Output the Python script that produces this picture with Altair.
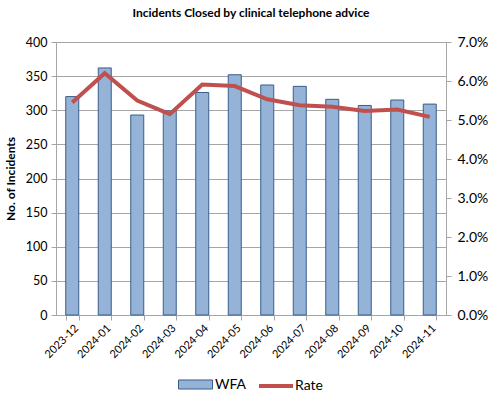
import altair as alt
import pandas as pd

months = ["2023-12", "2024-01", "2024-02", "2024-03", "2024-04", "2024-05",
          "2024-06", "2024-07", "2024-08", "2024-09", "2024-10", "2024-11"]
wfa = [320, 362, 293, 299, 326, 352, 337, 335, 316, 307, 315, 309]
rate_pct = [5.45, 6.20, 5.50, 5.15, 5.91, 5.87, 5.53, 5.38, 5.34, 5.23, 5.27, 5.08]

df = pd.DataFrame({
    "month": months,
    "WFA": wfa,
    "Rate": [r / 100 for r in rate_pct],
    "s1": ["WFA"] * len(months),
    "s2": ["Rate"] * len(months),
})

FONT = "Lato"
GRID = "#A6A6A6"

x = alt.X("month:N", sort=months, title=None,
          scale=alt.Scale(paddingInner=0.6, paddingOuter=0.3),
          axis=alt.Axis(labelAngle=-45, labelFontSize=11, labelFont=FONT, labelColor="#000",
                        tickBand="extent", tickSize=5, tickColor=GRID, domainColor=GRID,
                        grid=False, labelPadding=2))

bars = alt.Chart(df).mark_bar(stroke="#385D8A", strokeWidth=1).encode(
    x=x,
    y=alt.Y("WFA:Q", title="No. of Incidents",
            scale=alt.Scale(domain=[0, 400]),
            axis=alt.Axis(values=list(range(0, 401, 50)), labelFontSize=12.5, labelFont=FONT,
                          labelColor="#000", titleFont=FONT, titleFontSize=12,
                          titleFontWeight="bold", titleColor="#000", titlePadding=8,
                          grid=True, gridColor=GRID, tickColor=GRID, domainColor=GRID,
                          tickSize=5, labelPadding=4)),
    fill=alt.Fill("s1:N", scale=alt.Scale(domain=["WFA"], range=["#95B3D7"]),
                  legend=alt.Legend(title=None, orient="none", legendX=122, legendY=325,
                                    symbolType="M-1,-0.265H1V0.265H-1Z", symbolSize=1156,
                                    symbolStrokeColor="#385D8A", symbolStrokeWidth=1,
                                    symbolFillColor="#95B3D7",
                                    labelFont=FONT, labelFontSize=14, labelColor="#000",
                                    labelOffset=2, padding=0)),
)

line = alt.Chart(df).mark_line(color="#C0504D", strokeWidth=4).encode(
    x=x,
    y=alt.Y("Rate:Q", title=None,
            scale=alt.Scale(domain=[0, 0.07]),
            axis=alt.Axis(orient="right", format=".1%", values=[i / 100 for i in range(8)],
                          labelFontSize=14, labelFont=FONT, labelColor="#000",
                          grid=False, tickColor=GRID, domainColor=GRID, tickSize=5,
                          labelPadding=6)),
    stroke=alt.Stroke("s2:N", scale=alt.Scale(domain=["Rate"], range=["#C0504D"]),
                      legend=alt.Legend(title=None, orient="none", legendX=201, legendY=325,
                                        symbolType="stroke", symbolSize=1156,
                                        symbolStrokeWidth=4, symbolStrokeColor="#C0504D",
                                        labelFont=FONT, labelFontSize=14, labelColor="#000",
                                        labelOffset=0, padding=0)),
)

chart = alt.layer(bars, line).resolve_scale(y="independent", fill="independent", stroke="independent").properties(
    width=390, height=273,
    title=alt.TitleParams("Incidents Closed by clinical telephone advice", font=FONT,
                          fontSize=12, fontWeight="bold", color="#000", anchor="middle", offset=15),
    padding={"left": 56, "top": 42, "right": 53, "bottom": 79},
    autosize=alt.AutoSizeParams(type="none"),
).configure_view(stroke=None).configure(background="white")

chart.save("out.html", embed_options={"renderer": "svg", "actions": False})
